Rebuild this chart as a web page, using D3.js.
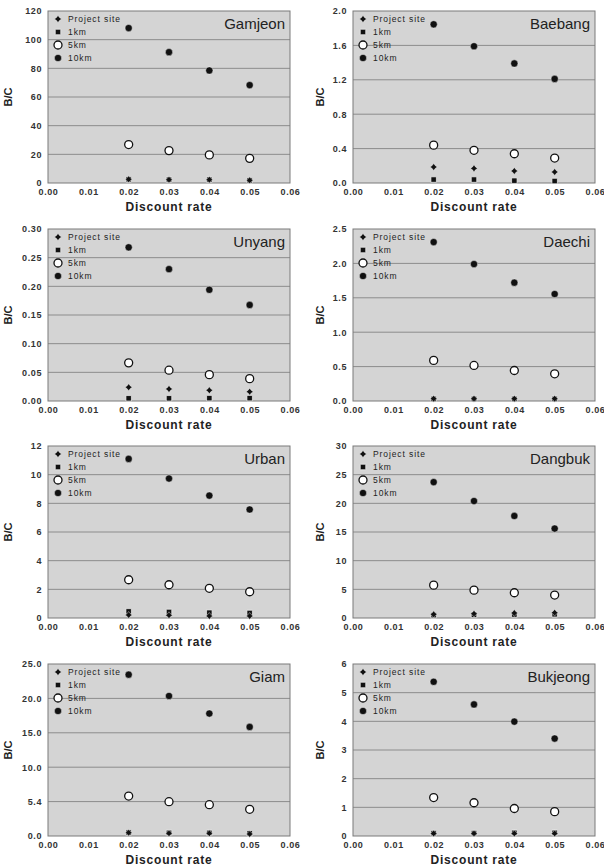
<!DOCTYPE html>
<html>
<head>
<meta charset="utf-8">
<script src="https://cdn.jsdelivr.net/npm/d3@7"></script>
<style>
  body { margin: 0; background: #fff; }
  svg { display: block; }
  text { font-family: "Liberation Sans", Arial, sans-serif; }
</style>
</head>
<body>
<div id="chart"></div>
<script>
// data
const sites = ["Gamjeon", "Baebang", "Unyang", "Daechi", "Urban", "Dangbuk", "Giam", "Bukjeong"];
const rates = [0.02, 0.03, 0.04, 0.05];
const xTicks = [0, 0.01, 0.02, 0.03, 0.04, 0.05, 0.06];
const seriesNames = ["Project site", "1km", "5km", "10km"];

const yMaxes = [120, 2.0, 0.30, 2.5, 12, 30, 25, 6];
const yTickLabels = [
  ["0", "20", "40", "60", "80", "100", "120"],
  ["0.0", "0.4", "0.8", "1.2", "1.6", "2.0"],
  ["0.00", "0.05", "0.10", "0.15", "0.20", "0.25", "0.30"],
  ["0.0", "0.5", "1.0", "1.5", "2.0", "2.5"],
  ["0", "2", "4", "6", "8", "10", "12"],
  ["0", "5", "10", "15", "20", "25", "30"],
  ["0.0", "5.4", "10.0", "15.0", "20.0", "25.0"],
  ["0", "1", "2", "3", "4", "5", "6"]
];

const projectSite = [
  [2.6, 2.3, 2.3, 1.9],
  [0.186, 0.17, 0.14, 0.128],
  [0.024, 0.021, 0.0187, 0.0163],
  [0.034, 0.034, 0.034, 0.034],
  [0.21, 0.19, 0.14, 0.14],
  [0.64, 0.75, 0.87, 0.93],
  [0.48, 0.39, 0.39, 0.29],
  [0.09, 0.09, 0.09, 0.09]
];
const km1 = [
  [2.6, 2.3, 2.3, 1.9],
  [0.04, 0.04, 0.027, 0.023],
  [0.0047, 0.0047, 0.005, 0.005],
  [0.03, 0.03, 0.03, 0.03],
  [0.46, 0.42, 0.37, 0.35],
  [0.5, 0.55, 0.6, 0.65],
  [0.5, 0.45, 0.45, 0.4],
  [0.1, 0.1, 0.11, 0.11]
];
const km5 = [
  [26.8, 22.6, 19.6, 17.2],
  [0.44, 0.38, 0.34, 0.29],
  [0.0665, 0.0537, 0.046, 0.039],
  [0.59, 0.517, 0.443, 0.395],
  [2.67, 2.32, 2.07, 1.83],
  [5.73, 4.86, 4.40, 4.0],
  [5.81, 4.99, 4.55, 3.88],
  [1.34, 1.16, 0.96, 0.85]
];
const km10 = [
  [108.1, 91.3, 78.5, 68.3],
  [1.845, 1.59, 1.39, 1.21],
  [0.268, 0.230, 0.194, 0.1675],
  [2.31, 1.99, 1.72, 1.555],
  [11.1, 9.73, 8.54, 7.57],
  [23.7, 20.4, 17.8, 15.6],
  [23.45, 20.35, 17.8, 15.85],
  [5.38, 4.59, 3.99, 3.40]
];

const W = 604, H = 868;
const colLeft = [48, 353];
const rowTop = [11, 229, 446, 664];
const pw = 242, ph = 172;

const svg = d3.select("#chart").append("svg")
  .attr("width", W)
  .attr("height", H);

// small four-pointed star like the original "project site" mark
const sparkle = {
  draw(ctx, size) {
    const r = Math.sqrt(size) * 0.75, q = r * 0.42;
    ctx.moveTo(0, -r);
    ctx.lineTo(q, -q);
    ctx.lineTo(r, 0);
    ctx.lineTo(q, q);
    ctx.lineTo(0, r);
    ctx.lineTo(-q, q);
    ctx.lineTo(-r, 0);
    ctx.lineTo(-q, -q);
    ctx.closePath();
  }
};
const star = d3.symbol().type(sparkle).size(22);
const square = d3.symbol().type(d3.symbolSquare).size(30);

function drawMarker(g, kind, x, y) {
  if (kind === 0) {
    g.append("path").attr("d", star)
      .attr("transform", `translate(${x},${y})`)
      .attr("fill", "#111").attr("stroke", "#fff").attr("stroke-width", 0.4);
  } else if (kind === 1) {
    g.append("path").attr("d", square)
      .attr("transform", `translate(${x},${y})`)
      .attr("fill", "#111").attr("stroke", "#f4f4f4").attr("stroke-width", 0.7);
  } else if (kind === 2) {
    g.append("circle").attr("cx", x).attr("cy", y).attr("r", 4)
      .attr("fill", "#fff").attr("stroke", "#111").attr("stroke-width", 1.3);
  } else {
    g.append("circle").attr("cx", x).attr("cy", y).attr("r", 3.6)
      .attr("fill", "#111").attr("stroke", "#fff").attr("stroke-width", 0.4);
  }
}

sites.forEach((site, i) => {
  const left = colLeft[i % 2];
  const top = rowTop[Math.floor(i / 2)];
  const g = svg.append("g").attr("transform", `translate(${left},${top})`);

  const x = d3.scaleLinear().domain([0, 0.06]).range([0, pw]);
  const y = d3.scaleLinear().domain([0, yMaxes[i]]).range([ph, 0]);
  const labels = yTickLabels[i];
  const yTicks = labels.map((l, k) => k * yMaxes[i] / (labels.length - 1));

  // plot background
  g.append("rect")
    .attr("width", pw).attr("height", ph)
    .attr("fill", "#d4d4d4");

  // gridlines
  g.selectAll(".grid")
    .data(yTicks.slice(1, -1))
    .enter().append("line")
    .attr("x1", 0).attr("x2", pw)
    .attr("y1", d => y(d)).attr("y2", d => y(d))
    .attr("stroke", "#8c8c8c").attr("stroke-width", 1);

  // frame
  g.append("rect")
    .attr("width", pw).attr("height", ph)
    .attr("fill", "none")
    .attr("stroke", "#7a7a7a").attr("stroke-width", 1);

  // axes
  const xAxis = g.append("g")
    .attr("transform", `translate(0,${ph})`)
    .call(d3.axisBottom(x).tickValues(xTicks).tickFormat(d3.format(".2f")).tickSize(0).tickPadding(6));
  const yAxis = g.append("g")
    .call(d3.axisLeft(y).tickValues(yTicks).tickFormat((d, k) => labels[k]).tickSize(0).tickPadding(6));
  [xAxis, yAxis].forEach(a => {
    a.select(".domain").remove();
    a.selectAll("text")
      .attr("fill", "#333")
      .style("font-size", "9px")
      .style("font-weight", "bold")
      .style("letter-spacing", "0.6px");
  });

  g.append("text")
    .attr("x", pw / 2).attr("y", ph + 28)
    .attr("text-anchor", "middle")
    .style("font-size", "12px").style("font-weight", "bold")
    .style("letter-spacing", "0.8px")
    .attr("fill", "#222")
    .text("Discount rate");

  const yLabX = i % 2 === 0 ? -36 : -29;
  g.append("text")
    .attr("transform", `translate(${yLabX},${ph / 2}) rotate(-90)`)
    .attr("text-anchor", "middle")
    .style("font-size", "11px").style("font-weight", "bold")
    .attr("fill", "#222")
    .text("B/C");

  // site title
  g.append("text")
    .attr("x", pw - 5).attr("y", 18)
    .attr("text-anchor", "end")
    .style("font-size", "15px")
    .attr("fill", "#222")
    .text(site);

  // legend
  seriesNames.forEach((name, k) => {
    const ly = 8 + k * 13;
    drawMarker(g, k, 10, ly);
    g.append("text")
      .attr("x", 20).attr("y", ly + 3)
      .style("font-size", "8.5px")
      .style("letter-spacing", "0.9px")
      .attr("fill", "#222")
      .text(name);
  });

  // points
  const series = [km1[i], projectSite[i], km5[i], km10[i]];
  const kinds = [1, 0, 2, 3];
  series.forEach((vals, s) => {
    vals.forEach((v, j) => drawMarker(g, kinds[s], x(rates[j]), y(v)));
  });
});
</script>
</body>
</html>
